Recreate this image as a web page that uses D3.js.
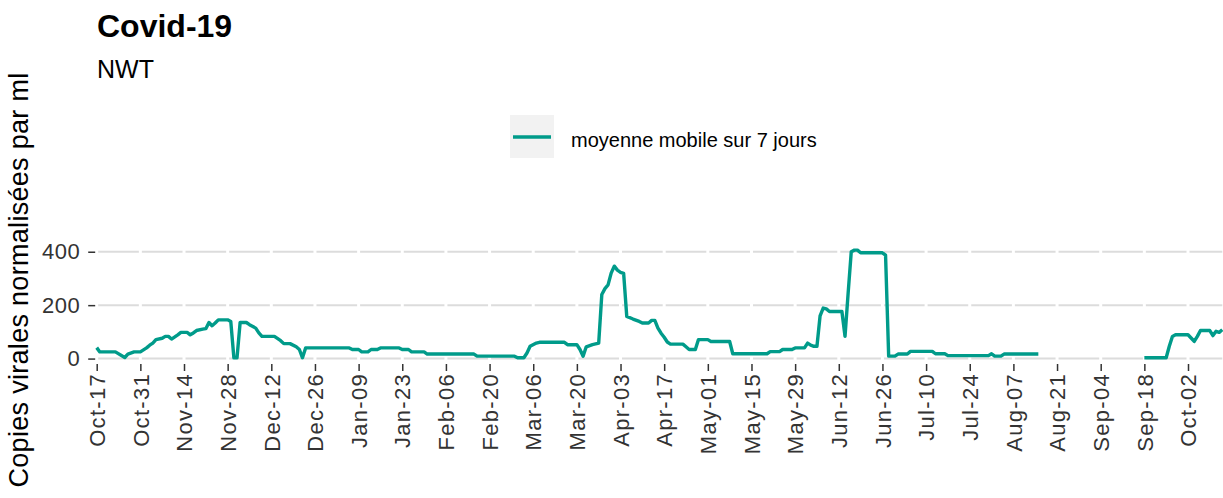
<!DOCTYPE html>
<html><head><meta charset="utf-8">
<script src="https://cdn.jsdelivr.net/npm/d3@7/dist/d3.min.js"></script>
<style>
html,body{margin:0;padding:0;background:#fff;}
text{font-family:"Liberation Sans",Arial,sans-serif;}
</style></head>
<body>
<svg id="chart" width="1223" height="498"></svg>
<script>
const titleText = "Covid-19";
const subtitleText = "NWT";
const yAxisTitle = "Copies virales normalisées par ml";
const legendLabel = "moyenne mobile sur 7 jours";
const yTicks = [0, 200, 400];
const xTickStart = "2021-10-17";
const xTickStepDays = 14;
const xTickCount = 26;
const xDomain = ["2021-10-17", "2022-10-13"];

const dates = [
"2021-10-17","2021-10-18","2021-10-23","2021-10-26","2021-10-27","2021-10-29","2021-10-31",
"2021-11-02","2021-11-03","2021-11-04","2021-11-05","2021-11-07","2021-11-08","2021-11-09","2021-11-10",
"2021-11-12","2021-11-13","2021-11-15","2021-11-16","2021-11-17","2021-11-18","2021-11-20","2021-11-21",
"2021-11-22","2021-11-23","2021-11-24","2021-11-25","2021-11-28","2021-11-29","2021-11-30",
"2021-12-01","2021-12-02","2021-12-04","2021-12-05","2021-12-07","2021-12-08","2021-12-09","2021-12-13",
"2021-12-15","2021-12-16","2021-12-18","2021-12-20","2021-12-21","2021-12-22","2021-12-23",
"2022-01-06","2022-01-07","2022-01-09","2022-01-10","2022-01-12","2022-01-13","2022-01-15","2022-01-16",
"2022-01-22","2022-01-23","2022-01-25","2022-01-26","2022-01-30","2022-01-31",
"2022-02-15","2022-02-16","2022-02-28",
"2022-03-01","2022-03-03","2022-03-04","2022-03-05","2022-03-07","2022-03-08","2022-03-16","2022-03-17",
"2022-03-20","2022-03-21","2022-03-22","2022-03-23","2022-03-25","2022-03-27","2022-03-28","2022-03-29",
"2022-03-30","2022-03-31",
"2022-04-01","2022-04-02","2022-04-03","2022-04-04","2022-04-05","2022-04-07","2022-04-09","2022-04-10",
"2022-04-12","2022-04-13","2022-04-14","2022-04-15","2022-04-16","2022-04-17","2022-04-18","2022-04-19",
"2022-04-23","2022-04-24","2022-04-25","2022-04-27","2022-04-28",
"2022-05-01","2022-05-02","2022-05-08","2022-05-09","2022-05-20","2022-05-21","2022-05-24","2022-05-25",
"2022-05-28","2022-05-29",
"2022-06-01","2022-06-02","2022-06-03","2022-06-04","2022-06-05","2022-06-06","2022-06-07","2022-06-08",
"2022-06-09","2022-06-13","2022-06-14","2022-06-15","2022-06-16","2022-06-17","2022-06-18","2022-06-19",
"2022-06-26","2022-06-27","2022-06-28","2022-06-30",
"2022-07-01","2022-07-04","2022-07-05","2022-07-12","2022-07-13","2022-07-16","2022-07-17","2022-07-30",
"2022-07-31","2022-08-01","2022-08-03","2022-08-04","2022-08-15",
"2022-08-30",
"2022-09-18","2022-09-25","2022-09-26","2022-09-27","2022-09-28",
"2022-10-02","2022-10-03","2022-10-04","2022-10-05","2022-10-06","2022-10-09","2022-10-10","2022-10-11",
"2022-10-12","2022-10-13"
];
const values = [
41,25,25,4,17,25,25,
40,50,58,71,76,83,83,73,
89,98,98,89,96,105,110,112,
135,123,133,145,145,139,3,
3,135,135,127,114,96,83,83,
67,56,56,44,34,3,40,
40,34,34,25,25,34,34,40,
40,34,34,25,25,17,
17,9,9,
3,3,21,46,58,61,61,52,
52,34,9,44,52,58,240,262,
276,320,
346,331,323,319,158,148,139,133,
133,143,143,114,95,80,62,54,
54,44,34,34,71,
71,64,64,18,18,26,26,34,
34,40,
40,58,50,46,46,160,189,186,
176,176,83,245,400,406,406,396,
396,387,9,9,
17,17,27,27,18,18,11,11,
18,9,9,17,17,
null,
3,3,46,83,89,
89,77,64,83,105,105,86,102,
98,108
];

const parse = d3.timeParse("%Y-%m-%d");
const data = dates.map((d, i) => ({date: parse(d), value: values[i]}));

const svg = d3.select("#chart");
const pLeft = 96.7, pRight = 1222.3, pTop = 244.7, pBottom = 364;

const x = d3.scaleTime().domain(xDomain.map(parse)).range([pLeft, pRight]);
const y = d3.scaleLinear().domain([-20.3, 426.3]).range([pBottom, pTop]);

const tickDates = d3.range(xTickCount).map(i => d3.timeDay.offset(parse(xTickStart), i * xTickStepDays));
const fmt = d3.timeFormat("%b-%d");

// horizontal gridlines
svg.append("g").selectAll("line").data(yTicks).join("line")
  .attr("x1", pLeft).attr("x2", pRight)
  .attr("y1", d => y(d)).attr("y2", d => y(d))
  .attr("stroke", "#dcdcdc").attr("stroke-width", 2);

// white vertical grid lines at tick positions
svg.append("g").selectAll("line").data(tickDates).join("line")
  .attr("x1", d => x(d)).attr("x2", d => x(d))
  .attr("y1", pTop).attr("y2", pBottom)
  .attr("stroke", "#fff").attr("stroke-width", 3);

// x axis
const xAxis = d3.axisBottom(x).tickValues(tickDates).tickFormat(fmt).tickSize(7).tickPadding(0);
const gx = svg.append("g").attr("transform", `translate(0,${pBottom})`).call(xAxis);
gx.select(".domain").remove();
gx.selectAll(".tick line").attr("stroke", "#333").attr("stroke-width", 1.5);
gx.selectAll(".tick text")
  .attr("transform", "translate(0,9) rotate(-90)")
  .attr("x", 0).attr("y", 0).attr("dy", "0.35em")
  .attr("text-anchor", "end")
  .attr("fill", "#333")
  .style("font-size", "22px")
  .style("letter-spacing", "1.3px");

// y axis
const yAxis = d3.axisLeft(y).tickValues(yTicks).tickSize(7).tickPadding(8);
const gy = svg.append("g").attr("transform", `translate(${pLeft - 1.5},0)`).call(yAxis);
gy.select(".domain").remove();
gy.selectAll(".tick line").attr("stroke", "#333").attr("stroke-width", 1.5);
gy.selectAll(".tick text").attr("fill", "#333").style("font-size", "22px").style("letter-spacing", "0.5px");

// data line
const line = d3.line().defined(d => d.value !== null)
  .x(d => x(d.date)).y(d => y(d.value));
svg.append("path").datum(data)
  .attr("d", line).attr("fill", "none")
  .attr("stroke", "#009B8A").attr("stroke-width", 3.4)
  .attr("stroke-linejoin", "round");

// titles
svg.append("text").attr("x", 97).attr("y", 37).text(titleText)
  .style("font-size", "32px").style("font-weight", "bold").attr("fill", "#000");
svg.append("text").attr("x", 97).attr("y", 78).text(subtitleText)
  .style("font-size", "25px").attr("fill", "#000");

// y axis title
svg.append("text")
  .attr("transform", "translate(28,280) rotate(-90)")
  .attr("text-anchor", "middle")
  .text(yAxisTitle)
  .style("font-size", "27px").style("letter-spacing", "0.3px").attr("fill", "#000");

// legend
const lg = svg.append("g");
lg.append("rect").attr("x", 510).attr("y", 115).attr("width", 44).attr("height", 43).attr("fill", "#f2f2f2");
lg.append("line").attr("x1", 513).attr("x2", 551).attr("y1", 137).attr("y2", 137)
  .attr("stroke", "#009B8A").attr("stroke-width", 3.4);
lg.append("text").attr("x", 571).attr("y", 147).text(legendLabel)
  .style("font-size", "20px").attr("fill", "#000");
</script>
</body></html>
